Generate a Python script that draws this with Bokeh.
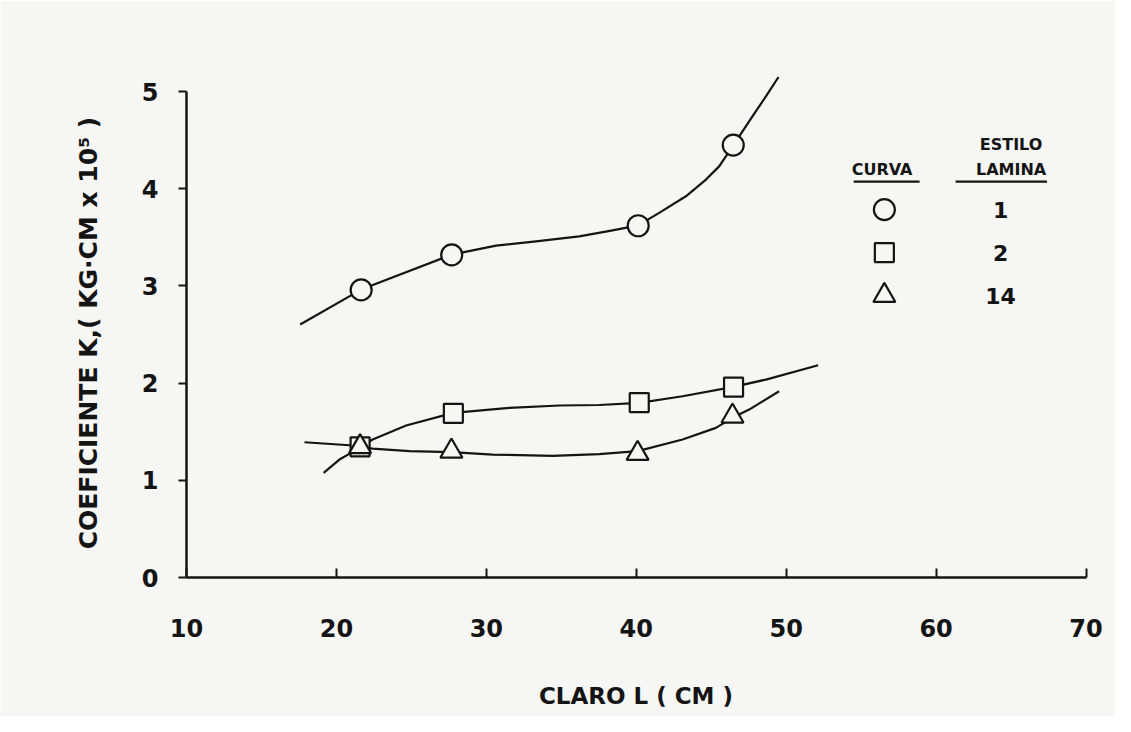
from bokeh.plotting import figure
from bokeh.models import Range1d, FixedTicker
from bokeh.core.properties import value
from bokeh.embed import file_html
from bokeh.resources import INLINE

# ---- tick values ----
x_ticks = [10, 20, 30, 40, 50, 60, 70]
y_ticks = [0, 1, 2, 3, 4, 5]

# ---- measured points (CLARO L cm, K x 10^5) ----
lam1_x = [21.65, 27.69, 40.13, 46.47]
lam1_y = [2.96, 3.32, 3.62, 4.45]
lam2_x = [21.58, 27.80, 40.20, 46.49]
lam2_y = [1.345, 1.69, 1.80, 1.96]
lam14_x = [21.58, 27.67, 40.09, 46.42]
lam14_y = [1.345, 1.30, 1.276, 1.66]

# ---- hand-drawn fitted curves ----
curve1_x = [17.58, 21.65, 27.69, 30.65, 33.31, 36.20, 38.42, 40.13, 41.53, 43.31, 44.65,
            45.53, 46.47, 47.75, 48.65, 49.49]
curve1_y = [2.603, 2.963, 3.323, 3.416, 3.460, 3.511, 3.573, 3.624, 3.752, 3.923, 4.095,
            4.231, 4.448, 4.746, 4.952, 5.151]
curve2_x = [19.15, 20.20, 20.98, 21.60, 22.42, 24.65, 27.80, 31.53, 34.87, 37.53, 40.20,
            43.09, 46.49, 48.65, 52.13]
curve2_y = [1.077, 1.214, 1.283, 1.345, 1.420, 1.564, 1.694, 1.746, 1.770, 1.775, 1.797,
            1.865, 1.962, 2.037, 2.184]
curve14_x = [17.87, 20.87, 22.42, 24.87, 27.67, 30.42, 34.42, 37.53, 40.09, 43.09, 45.31,
             46.42, 47.53, 49.53]
curve14_y = [1.392, 1.361, 1.327, 1.300, 1.290, 1.265, 1.252, 1.270, 1.300, 1.420, 1.540,
             1.643, 1.728, 1.917]

legend_labels = ["1", "2", "14"]
legend_markers = ["circle", "square", "triangle"]

BG = "#f6f6f4"
INK = "#141414"
FONT = "DejaVu Sans"

p = figure(width=1115, height=716, output_backend="svg", toolbar_location=None,
           x_range=Range1d(10, 70.5), y_range=Range1d(0, 5.3),
           min_border_left=186, min_border_right=22, min_border_top=62, min_border_bottom=139,
           background_fill_color=BG, border_fill_color=BG, outline_line_color=None)
p.grid.visible = False

# axes
for ax in (p.xaxis[0], p.yaxis[0]):
    ax.axis_line_color = INK
    ax.axis_line_width = 2.5
    ax.major_tick_line_color = INK
    ax.major_tick_line_width = 2
    ax.minor_tick_line_color = None
    ax.major_label_text_font = FONT
    ax.major_label_text_font_style = "bold"
    ax.major_label_text_color = INK
    ax.major_label_text_font_size = "24px"
    ax.axis_label_text_font = FONT
    ax.axis_label_text_font_style = "bold"
    ax.axis_label_text_color = INK

xa = p.xaxis[0]
xa.ticker = FixedTicker(ticks=x_ticks)
xa.bounds = (10, 70)
xa.major_tick_in = 9
xa.major_tick_out = 0
xa.major_label_standoff = 41
xa.axis_label = "CLARO  L ( CM )"
xa.axis_label_text_font_size = "23px"
xa.axis_label_standoff = 43

ya = p.yaxis[0]
ya.ticker = FixedTicker(ticks=y_ticks)
ya.bounds = (0, 5)
ya.major_tick_in = 0
ya.major_tick_out = 8
ya.major_label_standoff = 20
ya.major_label_orientation = "horizontal"
ya.axis_label = "COEFICIENTE    K,( KG·CM x 10⁵ )"
ya.axis_label_text_font_size = "25px"
ya.axis_label_standoff = 36

# curves
for cx, cy in ((curve1_x, curve1_y), (curve2_x, curve2_y), (curve14_x, curve14_y)):
    p.line(cx, cy, line_color=INK, line_width=2.2, line_join="round")

# points
p.scatter(lam1_x, lam1_y, marker="circle", size=21, fill_color=BG, line_color=INK, line_width=2.2)
p.scatter(lam2_x, lam2_y, marker="square", size=19, fill_color=BG, line_color=INK, line_width=2.2)
p.scatter(lam14_x, lam14_y, marker="triangle", size=22, fill_color=BG, line_color=INK, line_width=2.2)

# custom legend (table style)
LEG_MARK_X = 56.55
LEG_NUM_X = 64.3
LEG_ROWS_Y = [3.786, 3.344, 2.901]
marker_sizes = [21, 19, 22]
for mk, yy, ms in zip(legend_markers, LEG_ROWS_Y, marker_sizes):
    p.scatter([LEG_MARK_X], [yy], marker=mk, size=ms, fill_color=BG, line_color=INK, line_width=2.2)
p.text(x=[LEG_NUM_X] * 3, y=LEG_ROWS_Y, text=legend_labels, text_align="center",
       text_baseline="middle", text_font=value(FONT), text_font_style="bold",
       text_font_size="22px", text_color=INK)
p.text(x=[56.4, 65.0, 65.0], y=[4.20, 4.455, 4.20], text=["CURVA", "ESTILO", "LAMINA"],
       text_align="center", text_baseline="middle", text_font=value(FONT),
       text_font_style="bold", text_font_size="16px", text_color=INK)
p.segment(x0=[54.5, 61.3], y0=[4.074, 4.074], x1=[58.9, 67.4], y1=[4.074, 4.074],
          line_color=INK, line_width=2.2)

open("out.html", "w").write(file_html(p, INLINE))
